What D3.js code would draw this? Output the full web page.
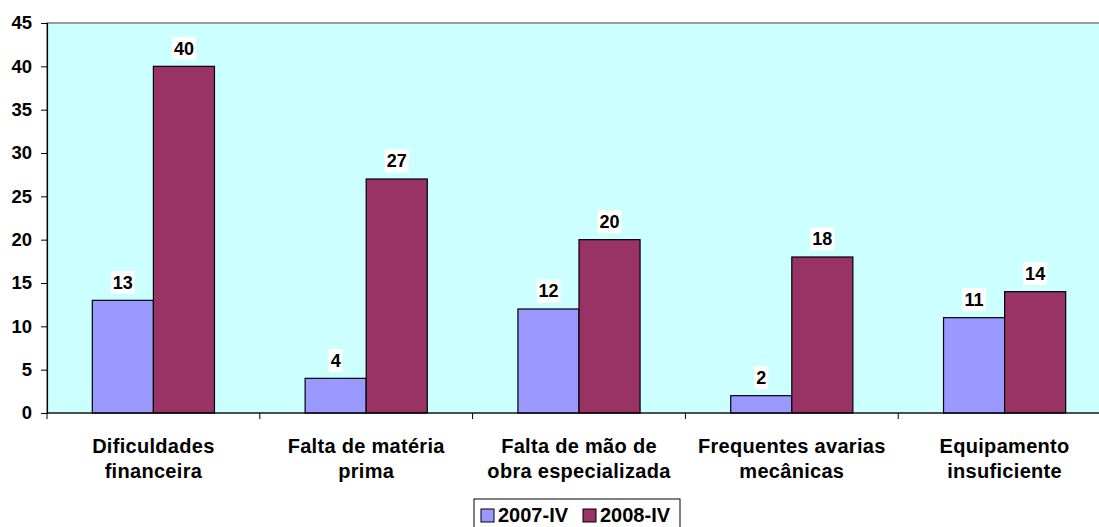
<!DOCTYPE html>
<html>
<head>
<meta charset="utf-8">
<script src="https://cdn.jsdelivr.net/npm/d3@7"></script>
<style>
  body { margin: 0; background: #fff; }
  svg text { font-family: "Liberation Sans", Arial, sans-serif; font-weight: bold; }
</style>
</head>
<body>
<div id="chart"></div>
<script>
var categories = [
  ["Dificuldades", "financeira"],
  ["Falta de matéria", "prima"],
  ["Falta de mão de", "obra especializada"],
  ["Frequentes avarias", "mecânicas"],
  ["Equipamento", "insuficiente"]
];
var seriesNames = ["2007-IV", "2008-IV"];
var values2007 = [13, 4, 12, 2, 11];
var values2008 = [40, 27, 20, 18, 14];
var yTicks = [0, 5, 10, 15, 20, 25, 30, 35, 40, 45];
var colors = ["#9999ff", "#993366"];

var W = 1099, H = 527;
var plot = { left: 47, top: 23, bottom: 413, right: 1111 };

var svg = d3.select("#chart").append("svg")
  .attr("width", W).attr("height", H);

var y = d3.scaleLinear().domain([0, 45]).range([plot.bottom, plot.top]);
var x = d3.scaleBand().domain(d3.range(categories.length))
  .range([plot.left, plot.right]);
var barW = x.bandwidth() * 0.287;

// plot background
svg.append("rect")
  .attr("x", plot.left).attr("y", plot.top)
  .attr("width", plot.right - plot.left).attr("height", plot.bottom - plot.top)
  .attr("fill", "#ccffff").attr("stroke", "#808080").attr("stroke-width", 1.5);

// bars
var series = [values2007, values2008];
series.forEach(function (vals, s) {
  svg.append("g").selectAll("rect")
    .data(vals).enter().append("rect")
    .attr("x", function (d, i) { return x(i) + x.bandwidth() / 2 - barW + s * barW; })
    .attr("y", function (d) { return y(d); })
    .attr("width", barW)
    .attr("height", function (d) { return y(0) - y(d); })
    .attr("fill", colors[s])
    .attr("stroke", "#000").attr("stroke-width", 1.2);
});

// data labels with white background
series.forEach(function (vals, s) {
  var g = svg.append("g").selectAll("g")
    .data(vals).enter().append("g")
    .attr("transform", function (d, i) {
      return "translate(" + (x(i) + x.bandwidth() / 2 - barW / 2 + s * barW) + "," + (y(d) - 18) + ")";
    });
  g.append("rect")
    .attr("x", function (d) { return String(d).length > 1 ? -12 : -7; })
    .attr("y", -11.5)
    .attr("width", function (d) { return String(d).length > 1 ? 24 : 14; })
    .attr("height", 23)
    .attr("fill", "#fff");
  g.append("text")
    .attr("text-anchor", "middle").attr("dy", "0.36em")
    .attr("font-size", 18)
    .text(function (d) { return d; });
});

// y axis
var yAxis = svg.append("g")
  .attr("transform", "translate(" + plot.left + ",0)")
  .call(d3.axisLeft(y).tickValues(yTicks).tickSize(6).tickPadding(9));
yAxis.select(".domain").attr("stroke", "#000").attr("stroke-width", 1.2);
yAxis.selectAll(".tick line").attr("stroke", "#000");
yAxis.selectAll(".tick text").attr("font-size", 18.5).attr("fill", "#000")
  .style("font-family", "'Liberation Sans', Arial, sans-serif").style("font-weight", "bold");

// x axis
svg.append("line")
  .attr("x1", plot.left).attr("x2", plot.right)
  .attr("y1", plot.bottom).attr("y2", plot.bottom)
  .attr("stroke", "#000").attr("stroke-width", 1.2);
svg.append("g").selectAll("line")
  .data(d3.range(categories.length + 1)).enter().append("line")
  .attr("x1", function (i) { return plot.left + i * x.step(); })
  .attr("x2", function (i) { return plot.left + i * x.step(); })
  .attr("y1", plot.bottom).attr("y2", plot.bottom + 6)
  .attr("stroke", "#000");

var cat = svg.append("g").selectAll("text")
  .data(categories).enter().append("text")
  .attr("text-anchor", "middle")
  .attr("font-size", 20)
  .attr("letter-spacing", 0.3)
  .attr("x", function (d, i) { return x(i) + x.bandwidth() / 2; })
  .attr("y", 453);
cat.selectAll("tspan").data(function (d) { return d; }).enter().append("tspan")
  .attr("x", function () { return d3.select(this.parentNode).attr("x"); })
  .attr("dy", function (d, j) { return j === 0 ? 0 : 25; })
  .text(function (d) { return d; });

// legend
var lg = svg.append("g").attr("transform", "translate(474,499)");
lg.append("rect").attr("width", 206).attr("height", 40)
  .attr("fill", "#fff").attr("stroke", "#000").attr("stroke-width", 1);
var legendX = [7, 109];
seriesNames.forEach(function (n, i) {
  var ox = legendX[i];
  lg.append("rect").attr("x", ox).attr("y", 10).attr("width", 13).attr("height", 13)
    .attr("fill", colors[i]).attr("stroke", "#000");
  lg.append("text").attr("x", ox + 17).attr("y", 23).attr("font-size", 20).text(n);
});
</script>
</body>
</html>
